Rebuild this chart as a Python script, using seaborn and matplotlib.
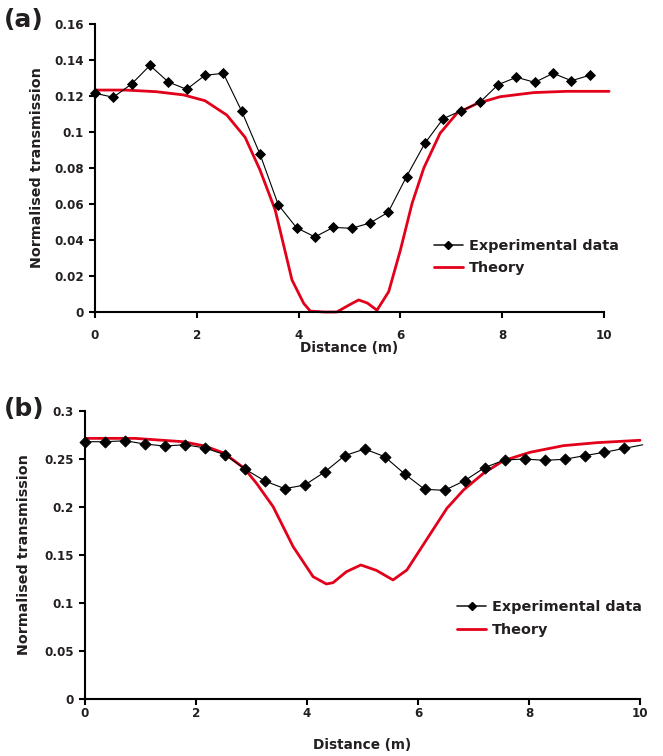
import numpy as np
import pandas as pd
import matplotlib
matplotlib.use("Agg")
import matplotlib.pyplot as plt
from matplotlib.lines import Line2D
from matplotlib.ticker import FuncFormatter, MultipleLocator
import seaborn as sns

# ---------------- data ----------------
step = 0.36
exp_a_y = [0.1215, 0.1193, 0.1267, 0.1370, 0.1278, 0.1237, 0.1315, 0.1326, 0.1117, 0.0878,
           0.0596, 0.0468, 0.0417, 0.0470, 0.0465, 0.0494, 0.0554, 0.0752, 0.0937, 0.1074,
           0.1119, 0.1165, 0.1263, 0.1304, 0.1276, 0.1326, 0.1285, 0.1315]
exp_a_x = [round(i * step, 2) for i in range(len(exp_a_y))]

theory_a_x = [0, 0.6, 1.2, 1.74, 2.16, 2.59, 2.95, 3.24, 3.54, 3.87, 4.10, 4.23, 4.5, 4.75,
              5.0, 5.18, 5.35, 5.54, 5.77, 6.0, 6.23, 6.46, 6.78, 7.11, 7.51, 7.96, 8.62,
              9.27, 10.1]
theory_a_y = [0.1233, 0.1233, 0.1224, 0.1206, 0.1174, 0.1094, 0.0970, 0.0790, 0.0567, 0.0178,
              0.0048, 0.0005, 0.0, 0.0, 0.0040, 0.0067, 0.0050, 0.0010, 0.0113, 0.0344,
              0.0604, 0.0800, 0.0993, 0.1104, 0.1159, 0.1196, 0.1219, 0.1226, 0.1226]

exp_b_y = [0.2680, 0.2680, 0.2690, 0.2656, 0.2635, 0.2649, 0.2615, 0.2545, 0.2396, 0.2271,
           0.2191, 0.2229, 0.2365, 0.2535, 0.2604, 0.2524, 0.2344, 0.2184, 0.2174, 0.2274,
           0.2410, 0.2490, 0.2500, 0.2486, 0.2497, 0.2535, 0.2570, 0.2611]
exp_b_x = [round(i * step, 2) for i in range(len(exp_b_y))]
exp_b_tail_x = [10.05]
exp_b_tail_y = [0.2648]

theory_b_x = [0, 0.9, 1.77, 2.16, 2.51, 2.87, 3.09, 3.39, 3.75, 4.11, 4.35, 4.47, 4.71, 4.97,
              5.25, 5.55, 5.80, 6.15, 6.52, 6.82, 7.18, 7.54, 8.02, 8.62, 9.22, 10.0]
theory_b_y = [0.2715, 0.2715, 0.2680, 0.2635, 0.2560, 0.2403, 0.2247, 0.2003, 0.1587, 0.1274,
              0.1198, 0.1212, 0.1326, 0.1396, 0.1340, 0.1240, 0.1344, 0.1656, 0.1986, 0.2177,
              0.2351, 0.2483, 0.2570, 0.2639, 0.2670, 0.2695]

labels = ["Experimental data", "Theory"]

# ---------------- style ----------------
sns.set_style("ticks")
TXT = "#231f20"
RED = "#e2001a"
FAM = ["DejaVu Sans"]
plt.rcParams["font.family"] = FAM
plt.rcParams["font.weight"] = "bold"
plt.rcParams["axes.labelweight"] = "bold"

fig = plt.figure(figsize=(6.63, 7.56), dpi=100)
W, H = 663, 756


def make_ax(l, r, t, b):
    return fig.add_axes([l / W, (H - b) / H, (r - l) / W, (b - t) / H])


ax_a = make_ax(95, 604, 24, 312)
ax_b = make_ax(85, 640, 411, 699)

fmt = FuncFormatter(lambda v, p: f"{v:g}")


def style(ax, ymax, ystep, xpad, ylab_x, xlab_y):
    ax.set_xlim(0, 10)
    ax.set_ylim(0, ymax)
    ax.xaxis.set_major_locator(MultipleLocator(2))
    ax.yaxis.set_major_locator(MultipleLocator(ystep))
    ax.yaxis.set_major_formatter(fmt)
    ax.xaxis.set_major_formatter(fmt)
    for s in ["top", "right"]:
        ax.spines[s].set_visible(False)
    for s in ["left", "bottom"]:
        ax.spines[s].set_linewidth(1.5)
        ax.spines[s].set_color("black")
    ax.tick_params(direction="out", length=4, width=1.5, colors="black",
                   labelcolor=TXT, labelsize=8.6)
    ax.tick_params(axis="y", pad=4)
    ax.tick_params(axis="x", pad=xpad)
    for lab in ax.get_xticklabels() + ax.get_yticklabels():
        lab.set_fontweight("bold")
    ax.set_xlabel("Distance (m)", fontsize=9.8, fontweight="bold", color=TXT)
    ax.set_ylabel("Normalised transmission", fontsize=10.3, fontweight="bold", color=TXT)
    ax.yaxis.set_label_coords(ylab_x, 0.5)
    ax.xaxis.set_label_coords(0.5, xlab_y)
    ax.xaxis.label.set_va("center")


# panel (a)
df_ta = pd.DataFrame({"x": theory_a_x, "y": theory_a_y})
df_ea = pd.DataFrame({"x": exp_a_x, "y": exp_a_y})
sns.lineplot(data=df_ta, x="x", y="y", ax=ax_a, color=RED, lw=2.0, sort=False,
             estimator=None, clip_on=False, zorder=2)
sns.lineplot(data=df_ea, x="x", y="y", ax=ax_a, color="black", lw=0.8, sort=False,
             estimator=None, marker="D", markersize=4.8, markeredgewidth=0.6,
             markeredgecolor="black", markerfacecolor="black", clip_on=False, zorder=3)
style(ax_a, 0.16, 0.02, xpad=8.0, ylab_x=(44 - 95) / 509, xlab_y=-(348 - 312) / 288)

# panel (b)
df_tb = pd.DataFrame({"x": theory_b_x, "y": theory_b_y})
df_eb_line = pd.DataFrame({"x": exp_b_x + exp_b_tail_x, "y": exp_b_y + exp_b_tail_y})
df_eb = pd.DataFrame({"x": exp_b_x, "y": exp_b_y})
sns.lineplot(data=df_tb, x="x", y="y", ax=ax_b, color=RED, lw=2.0, sort=False,
             estimator=None, clip_on=False, zorder=2)
sns.lineplot(data=df_eb_line, x="x", y="y", ax=ax_b, color="black", lw=0.8, sort=False,
             estimator=None, clip_on=False, zorder=3)
sns.scatterplot(data=df_eb, x="x", y="y", ax=ax_b, color="black", marker="D", s=32,
                edgecolor="black", linewidth=0.6, clip_on=False, zorder=4)
style(ax_b, 0.3, 0.05, xpad=2.0, ylab_x=(31 - 85) / 555, xlab_y=-(745 - 699) / 288)

# legends
handles = [Line2D([], [], color="#222222", lw=1.2, marker="D", markersize=4.4,
                  markerfacecolor="black", markeredgecolor="black"),
           Line2D([], [], color=RED, lw=2.0)]
for ax, anchor in [(ax_a, (0.666, 0.255)), (ax_b, (0.671, 0.344))]:
    leg = ax.legend(handles, labels, loc="upper left", bbox_to_anchor=anchor,
                    frameon=False, borderpad=0, borderaxespad=0, handlelength=2.0,
                    handletextpad=0.4, labelspacing=0.6,
                    prop={"family": FAM, "weight": "bold", "size": 10.4})
    for t in leg.get_texts():
        t.set_color(TXT)

# panel letters
fig.text(4 / W, 1 - 20 / H, "(a)", fontsize=18, fontweight="bold", color=TXT, va="center")
fig.text(4 / W, 1 - 409 / H, "(b)", fontsize=18, fontweight="bold", color=TXT, va="center")

fig.savefig("out.png", dpi=100)
